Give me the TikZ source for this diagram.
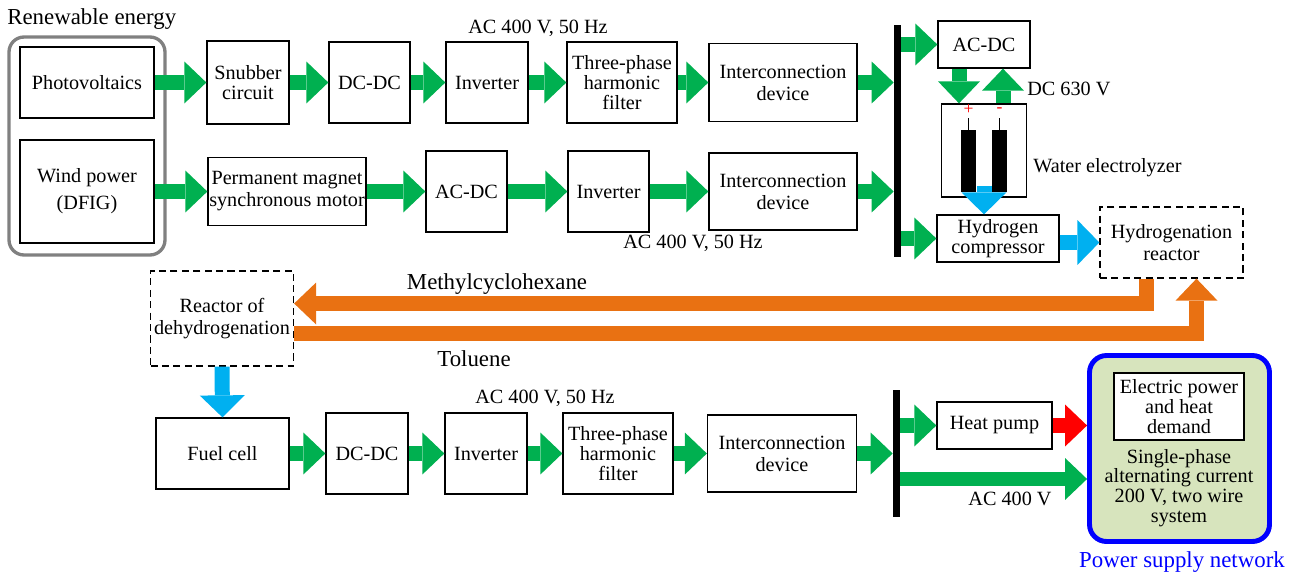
\documentclass[tikz,border=0pt]{standalone}
\usepackage{fontspec}
\setmainfont{Liberation Serif}
\newfontfamily\diagfont{Liberation Serif}
\usetikzlibrary{arrows.meta}

\definecolor{pgreen}{HTML}{00B050}
\definecolor{pcyan}{HTML}{00B0F0}
\definecolor{porange}{HTML}{E97112}
\definecolor{pblue}{HTML}{0000FF}
\definecolor{pgray}{HTML}{808080}
\definecolor{pfill}{HTML}{D7E4BD}

\tikzset{
  box/.style={draw, line width=0.75pt, fill=white, align=center, inner sep=0.5pt},
  dbox/.style={box, dash pattern=on 4pt off 2.5pt},
  tight/.style={font=\diagfont\fontsize{11.5}{11.3}\selectfont},
  big/.style={font=\diagfont\fontsize{13}{14}\selectfont},
  bus/.style={fill=black, inner sep=0pt, minimum width=0.14cm},
  pm/.style={text=red, inner sep=0pt, font=\diagfont\fontsize{10}{10}\selectfont},
  fat/.style={line width=0.3cm, -{Triangle[length=0.44cm, width=0.84cm, line width=0pt]}},
  garrow/.style={fat, draw=pgreen},
  barrow/.style={fat, draw=pcyan, -{Triangle[length=0.44cm, width=0.9cm, line width=0pt]}},
  oarrow/.style={fat, draw=porange},
  rarrow/.style={fat, draw=red}
}

\begin{document}
\begin{tikzpicture}[x=0.02cm, y=-0.02cm, every node/.style={font=\diagfont\fontsize{11.5}{12.5}\selectfont}]
        \useasboundingbox (0,0) rectangle (1299,578);

        %%%%%%%%%% Nodes %%%%%%%%%%
        \node[draw=pgray, line width=1.9pt, rounded corners=0.3cm, minimum width=3.12cm, minimum height=4.36cm] (re) at (87,146) {};
        \node[box, minimum width=2.68cm, minimum height=1.42cm] (pv) at (87,82.5) {Photovoltaics};
        \node[box, minimum width=2.68cm, minimum height=2.06cm] (wind) at (87,191.5) {Wind power\\[3pt](DFIG)};
        \node[box, tight, minimum width=1.64cm, minimum height=1.66cm] (snub) at (248,82.5) {Snubber\\circuit};
        \node[box, minimum width=1.62cm, minimum height=1.62cm] (dcdc1) at (369.5,82.5) {DC-DC};
        \node[box, minimum width=1.64cm, minimum height=1.62cm] (inv1) at (487,82.5) {Inverter};
        \node[box, tight, minimum width=2.2cm, minimum height=1.62cm] (filt1) at (622,82.5) {Three-phase\\harmonic\\filter};
        \node[box, minimum width=2.96cm, minimum height=1.56cm] (ic1) at (783,82.5) {Interconnection\\device};

        \node[box, minimum width=3.16cm, minimum height=1.36cm] (pmsm) at (287,191.5) {Permanent magnet\\synchronous motor};
        \node[box, minimum width=1.62cm, minimum height=1.62cm] (acdc1) at (466.5,191.5) {AC-DC};
        \node[box, minimum width=1.62cm, minimum height=1.62cm] (inv2) at (608.5,191.5) {Inverter};
        \node[box, minimum width=2.96cm, minimum height=1.54cm] (ic2) at (783,191.5) {Interconnection\\device};
        \node[bus, minimum height=4.64cm] (bus1) at (897.5,141) {};

        \node[box, minimum width=1.84cm, minimum height=0.94cm] (acdc2) at (984,44.5) {AC-DC};
        \node[box, minimum width=1.7cm, minimum height=1.86cm] (elec) at (984,150.5) {};
        \node[box, tight, minimum width=2.44cm, minimum height=0.94cm] (comp) at (998,238.5) {Hydrogen\\compressor};
        \node[dbox, minimum width=2.86cm, minimum height=1.42cm] (react) at (1171.5,242.5) {Hydrogenation\\reactor};
        \node[dbox, minimum width=2.86cm, minimum height=1.9cm] (dehyd) at (222,318.5) {Reactor of\\dehydrogenation};

        \node[box, minimum width=2.66cm, minimum height=1.42cm] (fc) at (222.5,453.5) {Fuel cell};
        \node[box, minimum width=1.64cm, minimum height=1.62cm] (dcdc2) at (367,453.5) {DC-DC};
        \node[box, minimum width=1.64cm, minimum height=1.62cm] (inv3) at (486,453.5) {Inverter};
        \node[box, tight, minimum width=2.2cm, minimum height=1.62cm] (filt2) at (618,453.5) {Three-phase\\harmonic\\filter};
        \node[box, minimum width=2.98cm, minimum height=1.54cm] (ic3) at (782,453.5) {Interconnection\\device};
        \node[bus, minimum height=2.54cm] (bus2) at (896.5,453.5) {};
        \node[box, minimum width=2.3cm, minimum height=0.94cm] (hp) at (994.5,425.5) {Heat pump};
        \node[draw=pblue, fill=pfill, line width=2.8pt, rounded corners=0.34cm, minimum width=3.6cm, minimum height=3.72cm] (psn) at (1179.5,448.5) {};
        \node[box, tight, minimum width=2.6cm, minimum height=1.34cm] (dem) at (1179,406.5) {Electric power\\and heat\\demand};

        %%%%%%%%%% Electrodes %%%%%%%%%%
        \fill (961,130) rectangle (976,192);
        \fill (992,130) rectangle (1007,192);
        \draw (968.5,118) -- (968.5,130);
        \draw (999.5,118) -- (999.5,130);
        \node[pm] (plus) at (968.5,110) {+};
        \node[pm] (minus) at (999.5,110) {-};

        %%%%%%%%%% Labels %%%%%%%%%%
        \node[big, anchor=west, inner sep=0pt] (lre) at (7,19) {Renewable energy};
        \node (lac1) at (538,28) {AC 400 V, 50 Hz};
        \node (lac2) at (693,243) {AC 400 V, 50 Hz};
        \node (lac3) at (545,398) {AC 400 V, 50 Hz};
        \node[anchor=west, inner sep=0pt] (ldc) at (1027,89) {DC 630 V};
        \node[anchor=west, inner sep=0pt] (lwe) at (1033,168) {Water electrolyzer};
        \node[big] (lmch) at (497,284) {Methylcyclohexane};
        \node[big] (ltol) at (474,359) {Toluene};
        \node (lac4) at (1010,499) {AC 400 V};
        \node[tight, align=center] (lsp) at (1179,488) {Single-phase\\alternating current\\200 V, two wire\\system};
        \node[big, text=pblue] (lpsn) at (1182,562) {Power supply network};

        %%%%%%%%%% Arrows %%%%%%%%%%
        \foreach \a/\b in {pv/snub, snub/dcdc1, dcdc1/inv1, inv1/filt1, filt1/ic1,
                           wind/pmsm, pmsm/acdc1, acdc1/inv2, inv2/ic2,
                           fc/dcdc2, dcdc2/inv3, inv3/filt2, filt2/ic3}
          \draw[garrow] (\a.east) -- (\b.west);
        \draw[garrow] (ic1.east) -- (ic1.east -| bus1.west);
        \draw[garrow] (ic2.east) -- (ic2.east -| bus1.west);
        \draw[garrow] (ic3.east) -- (ic3.east -| bus2.west);
        \draw[garrow] (bus1.east |- acdc2.west) -- (acdc2.west);
        \draw[garrow] (bus1.east |- comp.west) -- (comp.west);
        \draw[garrow] (bus2.east |- hp.west) -- (hp.west);
        \draw[garrow] ([xshift=-0.5cm]acdc2.south) -- ([xshift=-0.5cm]elec.north);
        \draw[garrow] ([xshift=0.38cm]elec.north) -- ([xshift=0.38cm]acdc2.south);
        \coordinate (gl) at ([yshift=-0.51cm]bus2.east);
        \draw[garrow] (gl) -- (gl -| psn.west);
        \draw[rarrow] (hp.east) -- (hp.east -| psn.west);

        \draw[barrow] ([yshift=0.24cm]elec.south) -- (comp.north -| elec.south);
        \draw[barrow] (comp.east |- react.west) -- (react.west);
        \draw[barrow] (dehyd.south) -- (fc.north);

        \draw[oarrow] ([xshift=-0.51cm]react.south) |- ([yshift=0.3cm]dehyd.east);
        \draw[oarrow] ([yshift=-0.3cm]dehyd.east) -| ([xshift=0.5cm]react.south);
\end{tikzpicture}
\end{document}
